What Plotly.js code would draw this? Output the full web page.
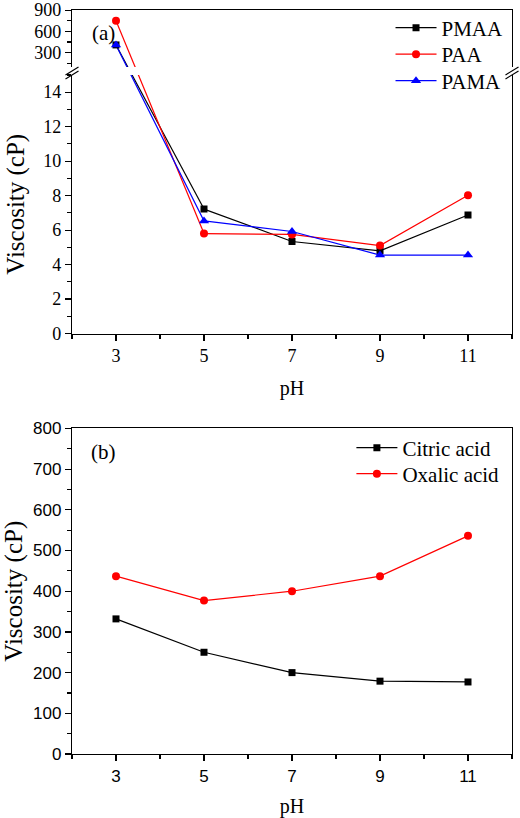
<!DOCTYPE html>
<html>
<head>
<meta charset="utf-8">
<script src="https://cdn.plot.ly/plotly-3.0.1.min.js"></script>
<style>html,body{margin:0;padding:0;background:#fff;}#chart{width:520px;height:818px;}</style>
</head>
<body>
<div id="chart"></div>
<script>
// ---- data ----
const pH = [3, 5, 7, 9, 11];
const PMAA = [410, 7.22, 5.34, 4.80, 6.88];
const PAA = [750, 5.80, 5.75, 5.10, 8.02];
const PAMA = [410, 6.53, 5.92, 4.55, 4.55];
const citric = [332, 250, 200, 179, 177];
const oxalic = [437, 377, 400, 437, 536];
const seriesA = ['PMAA', 'PAA', 'PAMA'];
const seriesB = ['Citric acid', 'Oxalic acid'];
const titleY = 'Viscosity (cP)';
const titleX = 'pH';

// ---- layout geometry ----
const domBot = [0.5651, 0.91275];   // panel (a) lower segment
const domTop = [0.92349, 1];        // panel (a) upper segment
const domB = [0, 0.43758];          // panel (b)
const rangeBot = [0, 15];
const rangeTop = [100, 902];
const xRange = [2, 12];

// maps a value of panel (a) onto the broken axis (paper fraction) for the line crossing the break
function brokenFrac(v) {
  if (v <= rangeBot[1]) return domBot[0] + (v - rangeBot[0]) / (rangeBot[1] - rangeBot[0]) * (domBot[1] - domBot[0]);
  return domTop[0] + (v - rangeTop[0]) / (rangeTop[1] - rangeTop[0]) * (domTop[1] - domTop[0]);
}

const SERIF = 'Liberation Serif, Times New Roman, serif';
const SANS = 'Liberation Sans, Arial, sans-serif';
const colA = ['#000000', '#ff0000', '#0000ff'];
const symA = ['square', 'circle', 'triangle-up'];
const sizeA = [7, 8, 9];
const valsA = [PMAA, PAA, PAMA];
const legA = ['legend', 'legend2', 'legend3'];
const legB = ['legend4', 'legend5'];

const traces = [];
// connectors across the break (hidden full-height axis)
valsA.forEach((v, i) => {
  traces.push({x: pH.slice(0, 2), y: v.slice(0, 2).map(brokenFrac), xaxis: 'x', yaxis: 'y',
    mode: 'lines', line: {color: colA[i], width: 1.2}, showlegend: false, hoverinfo: 'skip'});
});
// lower segment
valsA.forEach((v, i) => {
  traces.push({x: pH.slice(1), y: v.slice(1), xaxis: 'x2', yaxis: 'y2', name: seriesA[i],
    mode: 'lines+markers', line: {color: colA[i], width: 1.2},
    marker: {symbol: symA[i], size: sizeA[i], color: colA[i]}, legend: legA[i]});
});
// upper segment
valsA.forEach((v, i) => {
  traces.push({x: pH.slice(0, 1), y: v.slice(0, 1), xaxis: 'x3', yaxis: 'y3', name: seriesA[i],
    mode: 'markers', marker: {symbol: symA[i], size: sizeA[i], color: colA[i]}, showlegend: false});
});
// panel (b)
traces.push({x: pH, y: citric, xaxis: 'x4', yaxis: 'y4', name: seriesB[0], mode: 'lines+markers',
  line: {color: '#000000', width: 1.2}, marker: {symbol: 'square', size: 7, color: '#000000'}, legend: legB[0]});
traces.push({x: pH, y: oxalic, xaxis: 'x4', yaxis: 'y4', name: seriesB[1], mode: 'lines+markers',
  line: {color: '#ff0000', width: 1.2}, marker: {symbol: 'circle', size: 8, color: '#ff0000'}, legend: legB[1]});

const axBase = {showgrid: false, zeroline: false, showline: true, linecolor: '#000', linewidth: 1.2,
  ticks: 'outside', ticklen: 6, tickwidth: 1.2, tickcolor: '#000'};

const xCommon = Object.assign({}, axBase, {range: xRange, tickmode: 'linear', tick0: 3, dtick: 2,
  minor: {ticks: 'outside', ticklen: 4, dtick: 1, tick0: 0, tickcolor: '#000', tickwidth: 1.2}});

function legendAt(xPaper, yPaper) {
  return {x: xPaper, y: yPaper, xanchor: 'left', yanchor: 'middle', bgcolor: 'rgba(0,0,0,0)',
    font: {family: SERIF, size: 21, color: '#000'}, itemwidth: 41, borderwidth: 0};
}

const layout = {
  width: 520, height: 818,
  margin: {l: 72, r: 8, t: 9, b: 64},
  paper_bgcolor: '#fff', plot_bgcolor: 'rgba(0,0,0,0)',
  showlegend: true,
  xaxis: {domain: [0, 1], range: xRange, visible: false, anchor: 'y'},
  yaxis: {domain: [domBot[0], domTop[1]], range: [domBot[0], domTop[1]], visible: false, anchor: 'x'},
  xaxis2: Object.assign({}, xCommon, {anchor: 'y2', tickfont: {family: SERIF, size: 18, color: '#000'},
    title: {text: titleX, font: {family: SERIF, size: 20, color: '#000'}, standoff: 15}}),
  yaxis2: Object.assign({}, axBase, {domain: domBot, range: rangeBot, anchor: 'x2', mirror: true,
    tickmode: 'linear', tick0: 0, dtick: 2,
    minor: {ticks: 'outside', ticklen: 4, dtick: 1, tick0: 0, tickcolor: '#000', tickwidth: 1.2},
    tickfont: {family: SERIF, size: 18, color: '#000'},
    title: {text: titleY, font: {family: SERIF, size: 25, color: '#000'}, standoff: 11}}),
  xaxis3: {anchor: 'y3', matches: 'x2', range: xRange, side: 'top', showline: true, linecolor: '#000', linewidth: 1.2,
    ticks: '', showticklabels: false, showgrid: false, zeroline: false},
  yaxis3: Object.assign({}, axBase, {domain: domTop, range: rangeTop, anchor: 'x3', mirror: true,
    tickmode: 'linear', tick0: 0, dtick: 300,
    minor: {ticks: 'outside', ticklen: 4, dtick: 150, tick0: 0, tickcolor: '#000', tickwidth: 1.2},
    tickfont: {family: SERIF, size: 18, color: '#000'}}),
  xaxis4: Object.assign({}, xCommon, {anchor: 'y4', mirror: true, tickfont: {family: SANS, size: 17, color: '#000'},
    title: {text: titleX, font: {family: SERIF, size: 20, color: '#000'}, standoff: 16}}),
  yaxis4: Object.assign({}, axBase, {domain: domB, range: [0, 800], anchor: 'x4', mirror: true,
    tickmode: 'linear', tick0: 0, dtick: 100,
    minor: {ticks: 'outside', ticklen: 4, dtick: 50, tick0: 0, tickcolor: '#000', tickwidth: 1.2},
    tickfont: {family: SANS, size: 17, color: '#000'},
    title: {text: titleY, font: {family: SERIF, size: 25, color: '#000'}, standoff: 11}}),
  legend: legendAt(0.7239, (754 - 28) / 745),
  legend2: legendAt(0.7239, (754 - 54.5) / 745),
  legend3: legendAt(0.7239, (754 - 81) / 745),
  legend4: legendAt(0.635, (754 - 448) / 745),
  legend5: legendAt(0.635, (754 - 474) / 745),
  annotations: [
    {text: '(a)', xref: 'paper', yref: 'paper', x: 0.0716, y: 0.9691, xanchor: 'center', yanchor: 'middle',
      showarrow: false, font: {family: SERIF, size: 21, color: '#000'}},
    {text: '(b)', xref: 'paper', yref: 'paper', x: 0.0727, y: 0.4054, xanchor: 'center', yanchor: 'middle',
      showarrow: false, font: {family: SERIF, size: 21, color: '#000'}}
  ],
  shapes: []
};

// white gap across the break and the "//" marks
const gapMid = (domBot[1] + domTop[0]) / 2;
layout.shapes.push({type: 'rect', xref: 'paper', yref: 'paper', x0: 0, x1: 1, y0: domBot[1], y1: domTop[0],
  fillcolor: '#fff', line: {width: 0}, layer: 'above'});
[0, 1].forEach(xa => {
  [[-4, 4], [-8, 0]].forEach(([a, b]) => {
    layout.shapes.push({type: 'line', xref: 'paper', yref: 'paper', xsizemode: 'pixel', ysizemode: 'pixel',
      xanchor: xa, yanchor: gapMid, x0: -6.5, x1: 6.5, y0: a, y1: b,
      line: {color: '#000', width: 1.2}, layer: 'above'});
  });
});

Plotly.newPlot('chart', traces, layout, {displayModeBar: false, staticPlot: true});
</script>
</body>
</html>
